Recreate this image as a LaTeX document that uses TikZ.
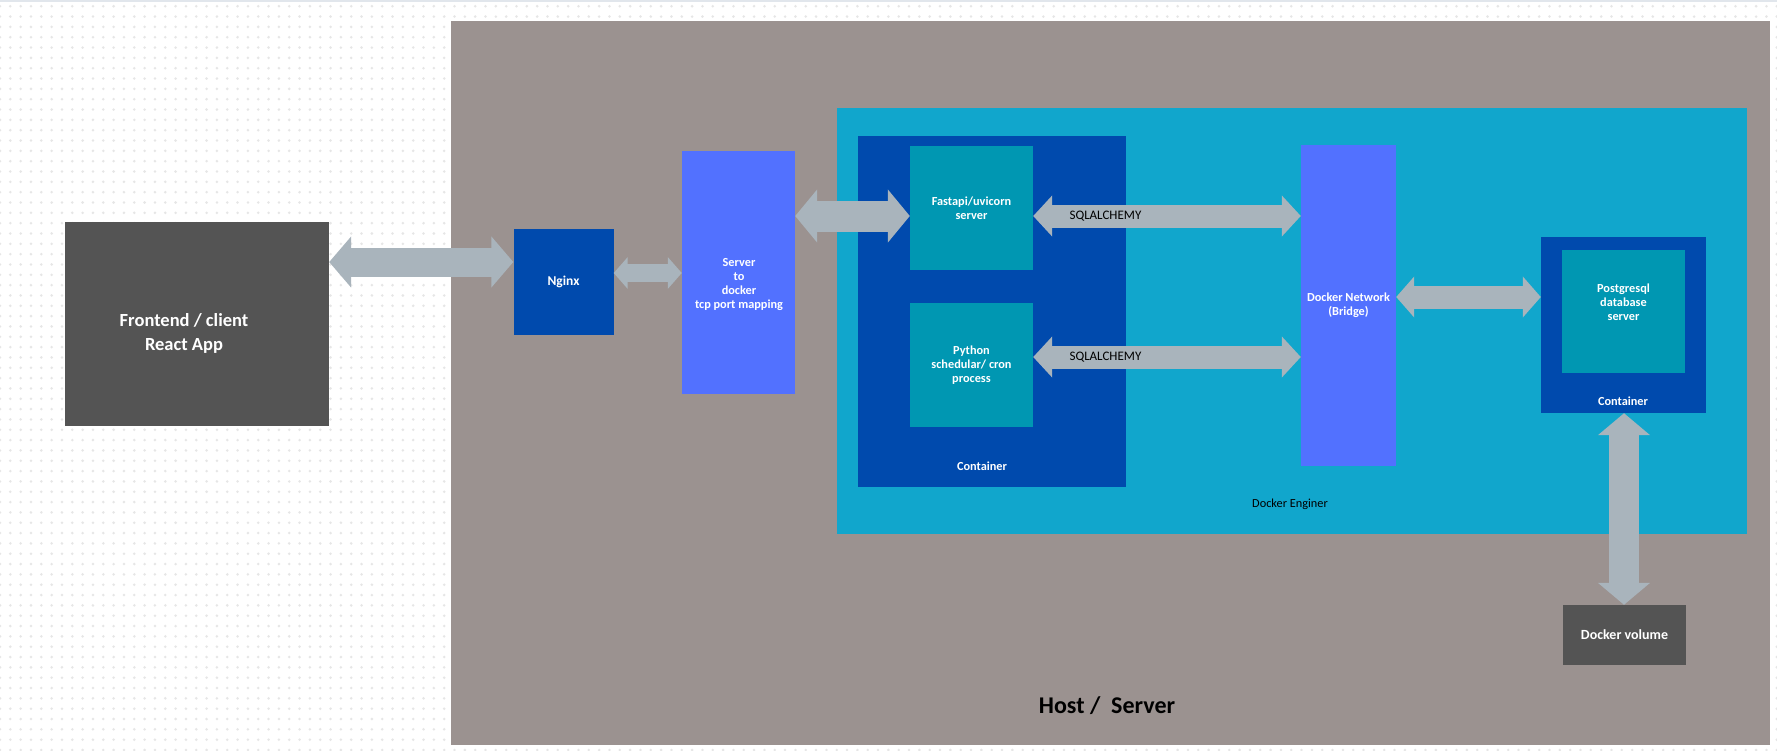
\documentclass[tikz,border=0pt]{standalone}
\usepackage{fontspec}
\setmainfont{Carlito}
\usetikzlibrary{arrows.meta,patterns.meta,positioning}

\definecolor{hostgrey}{HTML}{9B9290}
\definecolor{enginecyan}{HTML}{11A6CC}
\definecolor{contblue}{HTML}{004AAD}
\definecolor{appteal}{HTML}{0097B2}
\definecolor{portblue}{HTML}{5271FF}
\definecolor{darkbox}{HTML}{545454}
\definecolor{linkgrey}{HTML}{A9B4BC}
\definecolor{dotgrey}{HTML}{E6E6E6}
\definecolor{topline}{HTML}{E1E6EC}

\newcommand{\boxfont}{\bfseries\fontsize{12.3}{14}\selectfont}

\begin{document}
\begin{tikzpicture}[x=1pt,y=-1pt,
	box/.style 2 args={rectangle, inner sep=0pt, align=center, text=white,
		font=\boxfont, minimum width=#1pt, minimum height=#2pt},
	txt/.style={inner sep=0pt, align=center, text=white, font=\boxfont},
	dark/.style={inner sep=0pt, align=center, text=black,
		font=\fontsize{12.3}{14}\selectfont},
	link/.style n args={3}{line width=#1pt, draw=linkgrey,
		>={Triangle[length=#3pt,width=#2pt]}, <->}
]
\useasboundingbox (0,0) rectangle (1777,750);

% background
\fill[white] (0,0) rectangle (1777,750);
\fill[pattern={Dots[distance=10.33pt,radius=1.4pt]}, pattern color=dotgrey]
	(0,0) rectangle (1777,750);
\draw[topline, line width=2pt] (0,1) -- (1777,1);

% frames
\node[box={1319}{724}, fill=hostgrey] (host) at (1110.5,383) {};
\node[box={910}{426}, fill=enginecyan] (engine) at (1292,321) {};
\node[box={268}{351}, fill=contblue] (cont) at (992,311.5) {};
\node[box={165}{176}, fill=contblue] (pgcont) at (1623.5,325) {};

\node[dark, font=\bfseries\fontsize{24}{28}\selectfont] (hostlbl) at (1107,706) {Host /\ \ Server};
\node[dark] (enginelbl) at (1290,504) {Docker Enginer};
\node[txt] (contlbl) at (982,466) {Container};
\node[txt] (pgcontlbl) at (1623,401) {Container};

% boxes
\node[box={264}{204}, fill=darkbox] (front) at (197,324) {};
\node[txt, font=\bfseries\fontsize{18.5}{24}\selectfont] (fronttxt) at (184,333) {Frontend / client\\React App};
\node[box={100}{106}, fill=contblue, font=\bfseries\fontsize{13.5}{16}\selectfont] (nginx) at (563.5,282) {Nginx};
\node[box={113}{243}, fill=portblue] (server) at (738.5,272.5) {};
\node[txt] (servertxt) at (739,285) {Server\\to\\docker\\tcp port mapping};
\node[box={123}{124}, fill=appteal] (fast) at (971.5,208) {Fastapi/uvicorn\\server};
\node[box={123}{124}, fill=appteal] (py) at (971.5,365) {Python\\schedular/ cron\\process};
\node[box={95}{321}, fill=portblue] (net) at (1348.5,305.5) {Docker Network\\(Bridge)};
\node[box={123}{123}, fill=appteal] (pg) at (1623.5,311.5) {Postgresql\\database\\server\\[4pt]};
\node[box={123}{60}, fill=darkbox, font=\bfseries\fontsize{14}{16}\selectfont] (vol) at (1624.5,635) {Docker volume};

% links
\draw[link={29}{50}{22}] (front.east |- 0,262) -- (nginx.west |- 0,262);
\draw[link={18}{31}{14}] (nginx.east |- 0,273) -- (server.west |- 0,273);
\draw[link={31}{52}{22}] (server.east |- 0,216) -- (fast.west |- 0,216);
\draw[link={23}{40}{19}] (fast.east |- 0,216) -- node[dark, pos=0.27, font=\fontsize{13}{15}\selectfont] (sql1) {SQLALCHEMY} (net.west |- 0,216);
\draw[link={23}{40}{19}] (py.east |- 0,357) -- node[dark, pos=0.27, font=\fontsize{13}{15}\selectfont] (sql2) {SQLALCHEMY} (net.west |- 0,357);
\draw[link={23}{40}{18}] (net.east |- 0,297) -- (pgcont.west |- 0,297);
\draw[link={30}{51}{22}] (pgcont.south -| 1624,0) -- (vol.north -| 1624,0);

\end{tikzpicture}
\end{document}
